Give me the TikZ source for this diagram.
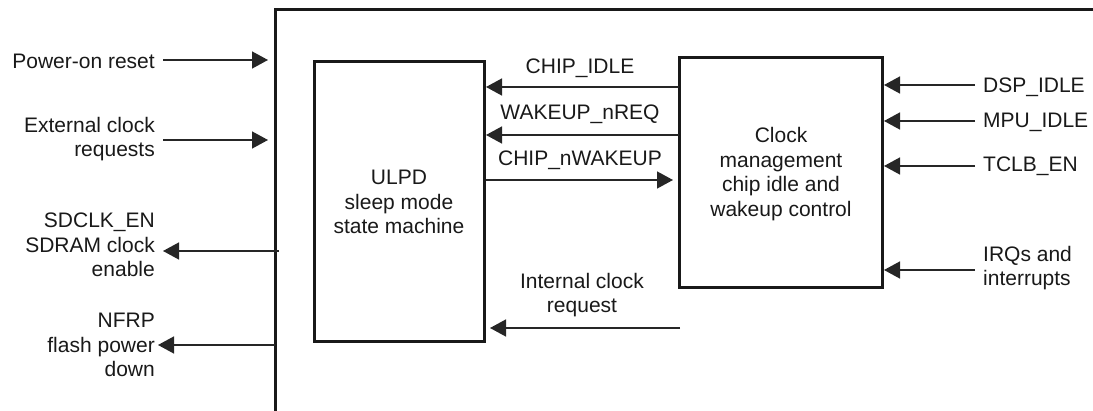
\documentclass[tikz,border=0pt]{standalone}
\usepackage{fontspec}
\setmainfont{Liberation Sans}
\usetikzlibrary{arrows.meta}
\begin{document}
\begin{tikzpicture}[x=1pt,y=-1pt,
  lbl/.style={font=\fontsize{21}{24.5}\selectfont, inner sep=0pt, text=black!90},
  blk/.style={draw=black!90, line width=3pt, inner sep=0pt},
  sig/.style={draw=black!85, line width=1.5pt, -{Triangle[length=16pt,width=17pt]}}
]
\useasboundingbox (0,0) rectangle (1093,411);
% outer frame
\coordinate (fbot) at (275,413);
\coordinate (ftl) at (275,10);
\coordinate (ftr) at (1095,10);
\draw[black!90, line width=3pt] (fbot) -- (ftl) -- (ftr);
% blocks
\node[blk, minimum width=170pt, minimum height=280pt] (ulpd) at (399,202) {};
\node[lbl, align=center] (ulpdt) at (399,202) {ULPD\\sleep mode\\state machine};
\node[blk, minimum width=203pt, minimum height=230pt] (clk) at (781,173) {};
\node[lbl, align=center] (clkt) at (781,174) {Clock\\management\\chip idle and\\wakeup control};
% left labels
\node[lbl, anchor=east] (por) at (155,61) {Power-on reset};
\node[lbl, anchor=east, align=right] (ext) at (155,139) {External clock\\requests};
\node[lbl, anchor=east, align=right] (sdclk) at (155,245) {SDCLK\_EN\\SDRAM clock\\enable};
\node[lbl, anchor=east, align=right] (nfrp) at (155,345) {NFRP\\flash power\\down};
% frame coordinates
\coordinate (fpor) at (268,60);
\coordinate (fext) at (268,140);
\coordinate (fsd) at (279,251);
\coordinate (fnf) at (275,345);
\coordinate (spor) at (163,60);
\coordinate (sext) at (163,140);
\coordinate (tsd) at (163,251);
\coordinate (tnf) at (158,345);
\draw[sig] (spor) -- (fpor);
\draw[sig] (sext) -- (fext);
\draw[sig] (fsd) -- (tsd);
\draw[sig] (fnf) -- (tnf);
% internal signals
\coordinate (c1a) at (679,87);  \coordinate (c1b) at (486,87);
\coordinate (c2a) at (679,135); \coordinate (c2b) at (486,135);
\coordinate (c3a) at (486,180); \coordinate (c3b) at (673,180);
\coordinate (c4a) at (680,328); \coordinate (c4b) at (490,328);
\draw[sig] (c1a) -- (c1b);
\draw[sig] (c2a) -- (c2b);
\draw[sig] (c3a) -- (c3b);
\draw[sig] (c4a) -- (c4b);
\node[lbl] (l1) at (580,68) {CHIP\_IDLE};
\node[lbl] (l2) at (580,114) {WAKEUP\_nREQ};
\node[lbl] (l3) at (580,160) {CHIP\_nWAKEUP};
\node[lbl, align=center] (l4) at (582,295) {Internal clock\\request};
% right signals
\node[lbl, anchor=west] (dsp) at (983,87) {DSP\_IDLE};
\node[lbl, anchor=west] (mpu) at (983,122) {MPU\_IDLE};
\node[lbl, anchor=west] (tclb) at (983,166) {TCLB\_EN};
\node[lbl, anchor=west, align=left] (irq) at (983,268) {IRQs and\\interrupts};
\coordinate (r1a) at (975,85);  \coordinate (r1b) at (884,85);
\coordinate (r2a) at (975,121); \coordinate (r2b) at (884,121);
\coordinate (r3a) at (975,166); \coordinate (r3b) at (884,166);
\coordinate (r4a) at (975,270); \coordinate (r4b) at (884,270);
\draw[sig] (r1a) -- (r1b);
\draw[sig] (r2a) -- (r2b);
\draw[sig] (r3a) -- (r3b);
\draw[sig] (r4a) -- (r4b);
\end{tikzpicture}
\end{document}
